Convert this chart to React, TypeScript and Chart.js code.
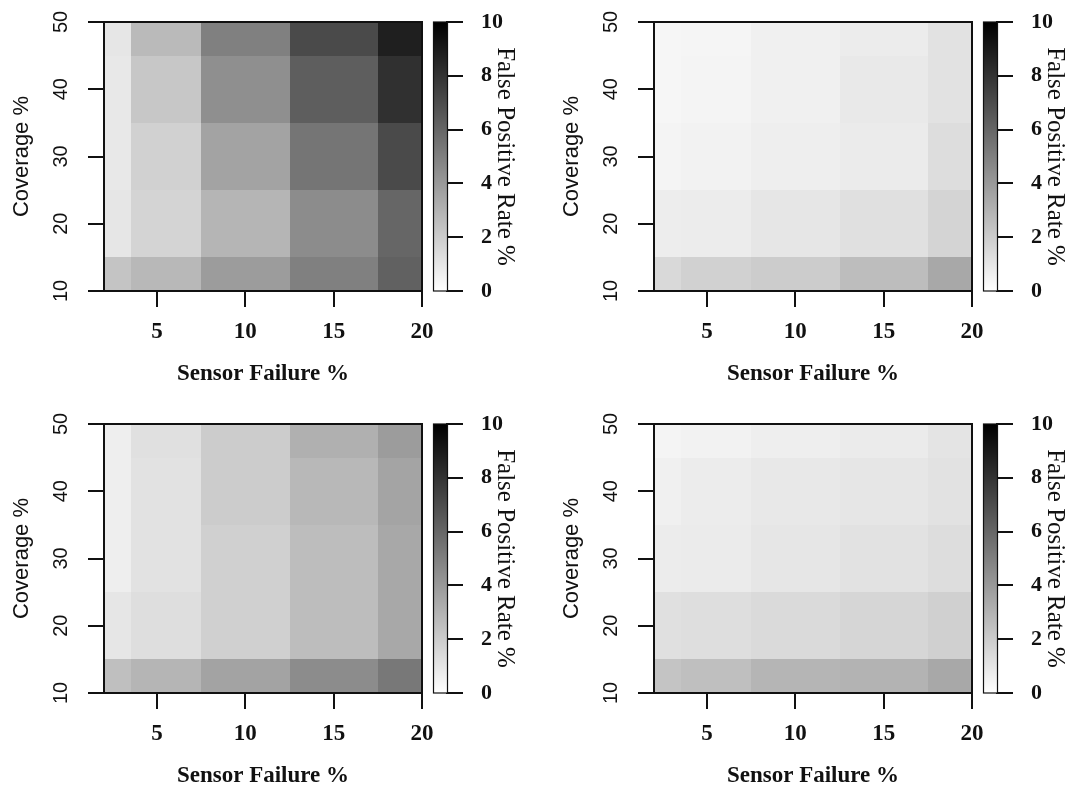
import React, { useEffect, useRef } from 'react';
import { Chart, registerables } from 'chart.js';

Chart.register(...registerables);

// ---- data ----
const xValues = [2, 5, 10, 15, 20]; // Sensor Failure %
const yValues = [10, 20, 30, 40, 50]; // Coverage %
const xTickValues = [5, 10, 15, 20];
const yTickValues = [10, 20, 30, 40, 50];
const colorbarTicks = [0, 2, 4, 6, 8, 10];
const xRange = [2, 20];
const yRange = [10, 50];
const valueRange = [0, 10];

// False positive rate %, rows = coverage 10..50, columns = sensor failure 2..20
const fprTopLeft = [
  [2.3, 2.8, 3.9, 5.0, 6.2],
  [1.0, 1.7, 2.9, 4.5, 6.0],
  [0.9, 1.8, 3.6, 5.4, 7.1],
  [0.9, 2.2, 4.4, 6.3, 8.1],
  [1.0, 2.7, 5.0, 7.1, 8.8],
];
const fprTopRight = [
  [1.5, 1.8, 2.0, 2.6, 3.4],
  [0.7, 0.75, 1.0, 1.2, 1.7],
  [0.45, 0.5, 0.65, 0.8, 1.35],
  [0.35, 0.45, 0.6, 0.85, 1.15],
  [0.35, 0.4, 0.6, 0.75, 1.15],
];
const fprBottomLeft = [
  [2.5, 2.9, 3.6, 4.5, 5.3],
  [1.0, 1.3, 1.85, 2.6, 3.4],
  [0.65, 1.15, 1.85, 2.6, 3.4],
  [0.65, 1.15, 2.0, 2.8, 3.55],
  [0.65, 1.2, 2.0, 3.1, 3.9],
];
const fprBottomRight = [
  [2.3, 2.5, 2.9, 3.0, 3.4],
  [1.2, 1.3, 1.45, 1.6, 1.85],
  [0.75, 0.8, 1.0, 1.15, 1.35],
  [0.6, 0.75, 0.9, 1.0, 1.15],
  [0.45, 0.5, 0.65, 0.8, 1.05],
];

const xTitle = 'Sensor Failure %';
const yTitle = 'Coverage %';
const cbTitle = 'False Positive Rate %';

// ---- styling ----
const INK = '#111';
const SERIF = '"Liberation Serif", "Times New Roman", serif';
const SANS = '"Liberation Sans", Arial, sans-serif';

function grayFor(v: number): string {
  const t = Math.min(1, Math.max(0, (v - valueRange[0]) / (valueRange[1] - valueRange[0])));
  const g = Math.round(255 * (1 - t));
  return `rgb(${g},${g},${g})`;
}

function cellEdges(vals: number[], min: number, max: number): number[] {
  const e: number[] = [Math.max(min, vals[0] - (vals[1] - vals[0]) / 2)];
  for (let i = 0; i < vals.length - 1; i++) e.push((vals[i] + vals[i + 1]) / 2);
  const n = vals.length;
  e.push(Math.min(max, vals[n - 1] + (vals[n - 1] - vals[n - 2]) / 2));
  return e;
}

const heatPlugin = {
  id: 'heatCells',
  beforeDatasetsDraw(chart: any) {
    const { ctx, chartArea } = chart;
    const xs = chart.scales.x;
    const ys = chart.scales.y;
    const xe = cellEdges(xValues, xs.min, xs.max);
    const ye = cellEdges(yValues, ys.min, ys.max);
    const pts = chart.data.datasets[0].data as any[];
    ctx.save();
    ctx.beginPath();
    ctx.rect(chartArea.left, chartArea.top, chartArea.width, chartArea.height);
    ctx.clip();
    pts.forEach((p) => {
      const i = xValues.indexOf(p.x);
      const j = yValues.indexOf(p.y);
      const l = Math.round(xs.getPixelForValue(xe[i]));
      const r = Math.round(xs.getPixelForValue(xe[i + 1]));
      const t = Math.round(ys.getPixelForValue(ye[j + 1]));
      const b = Math.round(ys.getPixelForValue(ye[j]));
      ctx.fillStyle = grayFor(p.v);
      ctx.fillRect(l, t, r - l, b - t);
    });
    ctx.restore();
  },
  afterDatasetsDraw(chart: any) {
    const { ctx, chartArea } = chart;
    ctx.save();
    ctx.strokeStyle = INK;
    ctx.lineWidth = 2;
    ctx.strokeRect(chartArea.left, chartArea.top, chartArea.width, chartArea.height);
    ctx.restore();
  },
};

const colorbarPlugin = {
  id: 'colorbarFill',
  beforeDatasetsDraw(chart: any) {
    const { ctx, chartArea } = chart;
    const ys = chart.scales.y;
    const y0 = ys.getPixelForValue(valueRange[0]);
    const y1 = ys.getPixelForValue(valueRange[1]);
    const grad = ctx.createLinearGradient(0, y0, 0, y1);
    grad.addColorStop(0, grayFor(valueRange[0]));
    grad.addColorStop(1, grayFor(valueRange[1]));
    ctx.save();
    ctx.fillStyle = grad;
    ctx.fillRect(chartArea.left, chartArea.top, chartArea.width, chartArea.height);
    ctx.strokeStyle = INK;
    ctx.lineWidth = 1.2;
    ctx.strokeRect(chartArea.left + 0.5, chartArea.top, chartArea.width, chartArea.height);
    ctx.restore();
  },
};

const HEAT_W = 450;
const HEAT_H = 386;
const CB_W = 94;

function zeroPad(s: any) {
  s.paddingLeft = 0;
  s.paddingRight = 0;
  s.paddingTop = 0;
  s.paddingBottom = 0;
}

function Heatmap({ values }: { values: number[][] }) {
  const ref = useRef<HTMLCanvasElement | null>(null);
  useEffect(() => {
    if (!ref.current) return;
    const cells: any[] = [];
    yValues.forEach((yv, j) => {
      xValues.forEach((xv, i) => {
        cells.push({ x: xv, y: yv, v: values[j][i] });
      });
    });
    const chart = new Chart(ref.current, {
      type: 'scatter',
      data: {
        datasets: [
          { data: cells, pointRadius: 0, pointHoverRadius: 0, showLine: false } as any,
        ],
      },
      options: {
        animation: false,
        responsive: false,
        events: [],
        layout: { padding: { left: 0, top: 22, right: 28, bottom: 0 } },
        plugins: { legend: { display: false }, tooltip: { enabled: false } },
        scales: {
          x: {
            type: 'linear',
            min: xRange[0],
            max: xRange[1],
            afterBuildTicks: (s: any) => {
              s.ticks = xTickValues.map((v) => ({ value: v }));
            },
            afterFit: (s: any) => {
              s.height = 95;
              zeroPad(s);
            },
            grid: { drawOnChartArea: false, drawTicks: true, tickLength: 16, color: INK, lineWidth: 2 },
            border: { display: true, color: INK, width: 2 },
            ticks: {
              color: INK,
              font: { family: SERIF, size: 23, weight: 'bold' },
              padding: 11.7,
              maxRotation: 0,
              minRotation: 0,
              autoSkip: false,
            },
            title: {
              display: true,
              text: xTitle,
              color: INK,
              font: { family: SERIF, size: 23, weight: 'bold', lineHeight: 1 },
              padding: { top: 0, bottom: 0 },
            },
          } as any,
          y: {
            type: 'linear',
            min: yRange[0],
            max: yRange[1],
            afterBuildTicks: (s: any) => {
              s.ticks = yTickValues.map((v) => ({ value: v }));
            },
            afterFit: (s: any) => {
              s.width = 104;
              zeroPad(s);
            },
            grid: { drawOnChartArea: false, drawTicks: true, tickLength: 16, color: INK, lineWidth: 2 },
            border: { display: true, color: INK, width: 2 },
            ticks: {
              color: INK,
              font: { family: SANS, size: 20 },
              padding: 15.2,
              minRotation: 90,
              maxRotation: 90,
              crossAlign: 'center',
              autoSkip: false,
            },
            title: {
              display: true,
              text: yTitle,
              color: INK,
              font: { family: SANS, size: 22, lineHeight: 1 },
              padding: { top: 10.7, bottom: 0 },
            },
          } as any,
        },
      },
      plugins: [heatPlugin],
    });
    return () => chart.destroy();
  }, [values]);
  return (
    <canvas
      ref={ref}
      width={HEAT_W}
      height={HEAT_H}
      style={{ width: HEAT_W, height: HEAT_H, display: 'block' }}
    />
  );
}

function Colorbar() {
  const ref = useRef<HTMLCanvasElement | null>(null);
  useEffect(() => {
    if (!ref.current) return;
    const chart = new Chart(ref.current, {
      type: 'scatter',
      data: { datasets: [{ data: [], pointRadius: 0 } as any] },
      options: {
        animation: false,
        responsive: false,
        events: [],
        layout: { padding: { left: 8, top: 22, right: 0, bottom: 95 } },
        plugins: { legend: { display: false }, tooltip: { enabled: false } },
        scales: {
          x: { type: 'linear', display: false, min: 0, max: 1 } as any,
          y: {
            type: 'linear',
            position: 'right',
            min: valueRange[0],
            max: valueRange[1],
            afterBuildTicks: (s: any) => {
              s.ticks = colorbarTicks.map((v) => ({ value: v }));
            },
            afterFit: (s: any) => {
              s.width = 72;
              zeroPad(s);
            },
            grid: { drawOnChartArea: false, drawTicks: true, tickLength: 16, color: INK, lineWidth: 2 },
            border: { display: true, color: INK, width: 2 },
            ticks: {
              color: INK,
              font: { family: SERIF, size: 22, weight: 'bold' },
              padding: 18,
              crossAlign: 'near',
              autoSkip: false,
            },
            title: {
              display: true,
              text: cbTitle,
              color: INK,
              font: { family: SERIF, size: 25, lineHeight: 1 },
              padding: { top: 2.2, bottom: 0 },
            },
          } as any,
        },
      },
      plugins: [colorbarPlugin],
    });
    return () => chart.destroy();
  }, []);
  return (
    <canvas
      ref={ref}
      width={CB_W}
      height={HEAT_H}
      style={{ width: CB_W, height: HEAT_H, display: 'block' }}
    />
  );
}

const panels = [
  { values: fprTopLeft, left: 0, top: 0, cbLeft: 425 },
  { values: fprTopRight, left: 550, top: 0, cbLeft: 975 },
  { values: fprBottomLeft, left: 0, top: 402, cbLeft: 425 },
  { values: fprBottomRight, left: 550, top: 402, cbLeft: 975 },
];

export default function App() {
  return (
    <div
      style={{
        position: 'absolute',
        left: 0,
        top: 0,
        width: 1069,
        height: 788,
        overflow: 'hidden',
        background: '#ffffff',
      }}
    >
      {panels.map((p, k) => (
        <React.Fragment key={k}>
          <div style={{ position: 'absolute', left: p.left, top: p.top }}>
            <Heatmap values={p.values} />
          </div>
          <div style={{ position: 'absolute', left: p.cbLeft, top: p.top }}>
            <Colorbar />
          </div>
        </React.Fragment>
      ))}
    </div>
  );
}
